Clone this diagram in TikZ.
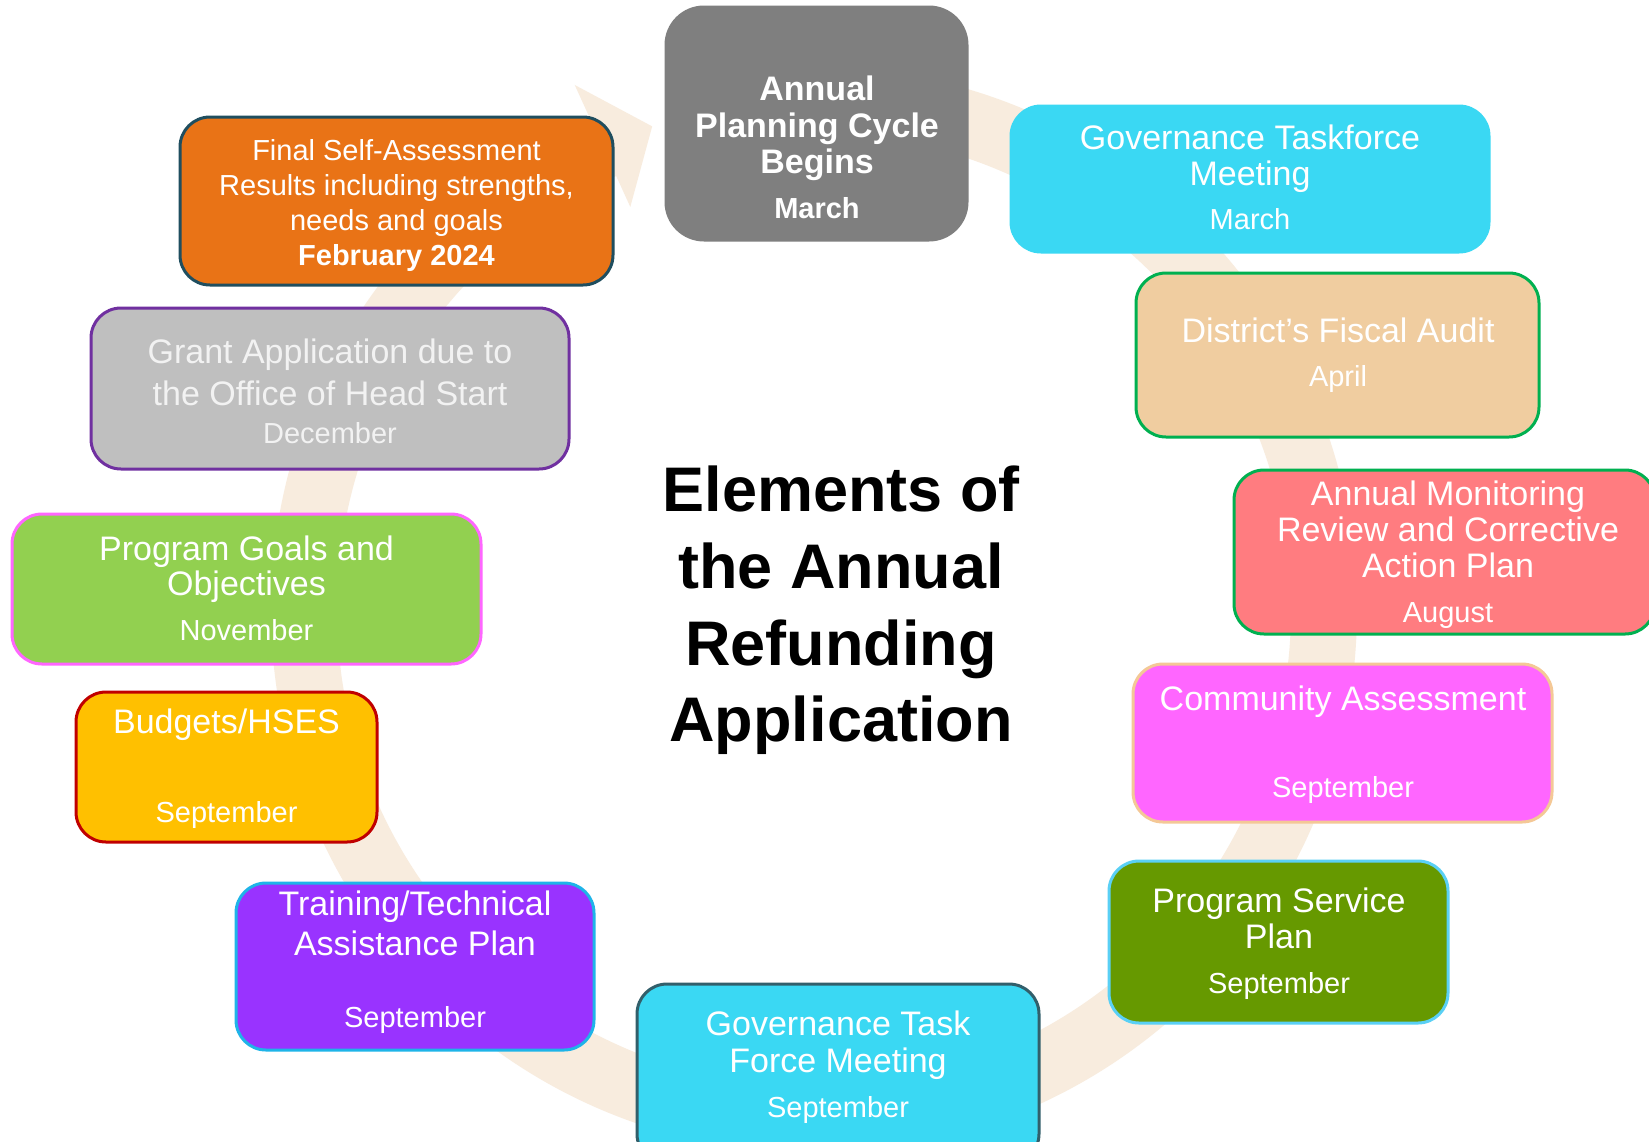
\documentclass[tikz,border=0pt]{standalone}
\usepackage{fontspec}
\setmainfont{Liberation Sans}
\definecolor{arcC}{RGB}{248,236,222}
\definecolor{grayF}{RGB}{127,127,127}
\definecolor{cyanF}{RGB}{58,216,243}
\definecolor{tanF}{RGB}{240,205,160}
\definecolor{greenB}{RGB}{0,176,80}
\definecolor{salmonF}{RGB}{255,124,128}
\definecolor{magF}{RGB}{255,102,255}
\definecolor{tanB}{RGB}{244,200,150}
\definecolor{oliveF}{RGB}{102,153,0}
\definecolor{ltcyanB}{RGB}{90,208,245}
\definecolor{slateB}{RGB}{50,95,107}
\definecolor{purpF}{RGB}{153,51,255}
\definecolor{cyanB}{RGB}{30,180,232}
\definecolor{ambF}{RGB}{255,192,0}
\definecolor{redB}{RGB}{192,0,0}
\definecolor{limeF}{RGB}{146,208,80}
\definecolor{pinkB}{RGB}{255,102,255}
\definecolor{silF}{RGB}{191,191,191}
\definecolor{violB}{RGB}{112,48,160}
\definecolor{orgF}{RGB}{233,115,22}
\definecolor{tealB}{RGB}{31,78,95}
\tikzset{
  box/.style={rectangle, rounded corners=30pt, line width=3pt, inner sep=0pt},
  ttl/.style={anchor=base, inner sep=0pt, text=white, font=\fontsize{34}{36}\selectfont},
  mon/.style={anchor=base, inner sep=0pt, text=white, font=\fontsize{29}{31}\selectfont},
  bigttl/.style={anchor=base, inner sep=0pt, text=black, font=\fontsize{63}{70}\selectfont\bfseries},
}
\begin{document}
\begin{tikzpicture}[x=1pt,y=-1pt]
\clip (0,0) rectangle (1649,1141);
\fill[white] (0,0) rectangle (1649,1141);
% circular arrow
\coordinate (ctr) at (814,610);
\draw[arcC, line width=66pt, shift={(814,610)}] (-90:510) arc[start angle=-90, end angle=245.5, radius=510];
\fill[arcC, shift={(814,610)}] (245.5:443) -- (251.5:510) -- (245.5:577) -- cycle;

% 1 Annual Planning Cycle Begins
\node[box, fill=grayF, draw=grayF, rounded corners=38pt, minimum width=301pt, minimum height=233pt] (b1) at (816.5,123.5) {};
\node[ttl, font=\fontsize{34}{36}\bfseries] (b1a) at (817,100) {Annual};
\node[ttl, font=\fontsize{34}{36}\bfseries] (b1b) at (817,137) {Planning Cycle};
\node[ttl, font=\fontsize{34}{36}\bfseries] (b1c) at (817,173) {Begins};
\node[mon, font=\fontsize{29}{31}\bfseries] (b1d) at (817,218) {March};

% 2 Governance Taskforce Meeting
\node[box, fill=cyanF, draw=cyanF, minimum width=478pt, minimum height=146pt] (b2) at (1250,179) {};
\node[ttl] (b2a) at (1250,149) {Governance Taskforce};
\node[ttl] (b2b) at (1250,185) {Meeting};
\node[mon] (b2c) at (1250,229) {March};

% 3 District's Fiscal Audit
\node[box, fill=tanF, draw=greenB, minimum width=403pt, minimum height=164pt] (b3) at (1337.5,355) {};
\node[ttl] (b3a) at (1338,342) {District’s Fiscal Audit};
\node[mon] (b3b) at (1338,386) {April};

% 4 Annual Monitoring
\node[box, fill=salmonF, draw=greenB, minimum width=421pt, minimum height=164pt] (b4) at (1444.5,552) {};
\node[ttl] (b4a) at (1448,505) {Annual Monitoring};
\node[ttl] (b4b) at (1448,541) {Review and Corrective};
\node[ttl] (b4c) at (1448,577) {Action Plan};
\node[mon] (b4d) at (1448,622) {August};

% 5 Community Assessment
\node[box, fill=magF, draw=tanB, minimum width=419pt, minimum height=158pt] (b5) at (1342.5,743) {};
\node[ttl] (b5a) at (1343,710) {Community Assessment};
\node[mon] (b5b) at (1343,797) {September};

% 6 Program Service Plan
\node[box, fill=oliveF, draw=ltcyanB, minimum width=339pt, minimum height=162pt] (b6) at (1278.5,942) {};
\node[ttl] (b6a) at (1279,912) {Program Service};
\node[ttl] (b6b) at (1279,948) {Plan};
\node[mon] (b6c) at (1279,993) {September};

% 7 Governance Task Force Meeting
\node[box, fill=cyanF, draw=slateB, minimum width=402pt, minimum height=180pt] (b7) at (838,1074) {};
\node[ttl] (b7a) at (838,1035) {Governance Task};
\node[ttl] (b7b) at (838,1072) {Force Meeting};
\node[mon] (b7c) at (838,1117) {September};

% 8 Training/Technical Assistance Plan
\node[box, fill=purpF, draw=cyanB, minimum width=358pt, minimum height=167pt] (b8) at (415,966.5) {};
\node[ttl] (b8a) at (415,915) {Training/Technical};
\node[ttl] (b8b) at (415,955) {Assistance Plan};
\node[mon] (b8c) at (415,1027) {September};

% 9 Budgets/HSES
\node[box, fill=ambF, draw=redB, minimum width=301pt, minimum height=150pt] (b9) at (226.5,767) {};
\node[ttl] (b9a) at (226.5,733) {Budgets/HSES};
\node[mon] (b9b) at (226.5,822) {September};

% 10 Program Goals and Objectives
\node[box, fill=limeF, draw=pinkB, minimum width=469pt, minimum height=150pt] (b10) at (246.5,589) {};
\node[ttl] (b10a) at (246.5,560) {Program Goals and};
\node[ttl] (b10b) at (246.5,595) {Objectives};
\node[mon] (b10c) at (246.5,640) {November};

% 11 Grant Application
\node[box, fill=silF, draw=violB, minimum width=478pt, minimum height=161pt] (b11) at (330,388.5) {};
\node[ttl, text=white!95!black] (b11a) at (330,363) {Grant Application due to};
\node[ttl, text=white!95!black] (b11b) at (330,405) {the Office of Head Start};
\node[mon, text=white!95!black] (b11c) at (330,443) {December};

% 12 Final Self-Assessment
\node[box, fill=orgF, draw=tealB, minimum width=433pt, minimum height=168pt] (b12) at (396.5,201) {};
\node[mon] (b12a) at (396.5,160) {Final Self-Assessment};
\node[mon] (b12b) at (396.5,195) {Results including strengths,};
\node[mon] (b12c) at (396.5,230) {needs and goals};
\node[mon, font=\fontsize{29}{31}\bfseries] (b12d) at (396.5,265) {February 2024};

% Center title
\node[bigttl] (t1) at (841,511) {Elements of};
\node[bigttl] (t2) at (841,588) {the Annual};
\node[bigttl] (t3) at (841,665) {Refunding};
\node[bigttl] (t4) at (841,741) {Application};
\end{tikzpicture}
\end{document}
